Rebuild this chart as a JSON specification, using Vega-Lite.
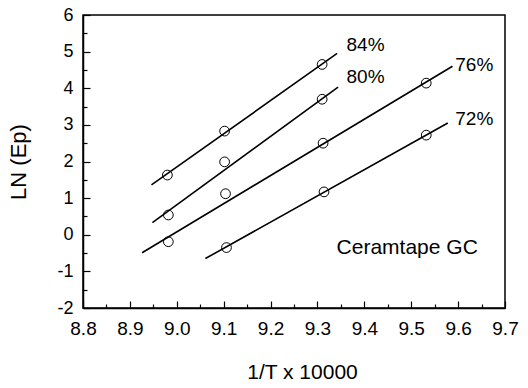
{
  "$schema": "https://vega.github.io/schema/vega-lite/v6.json",
  "width": 422,
  "height": 293,
  "autosize": {"type": "none"},
  "padding": {"left": 83, "top": 15, "right": 23, "bottom": 80},
  "background": "white",
  "config": {
    "font": "Liberation Sans",
    "view": {"stroke": "black", "strokeWidth": 1.5},
    "axis": {
      "domainColor": "black",
      "domainWidth": 1.5,
      "tickColor": "black",
      "tickWidth": 1.2,
      "grid": false,
      "labelColor": "black",
      "titleColor": "black",
      "titleFontWeight": "normal",
      "labelFont": "Liberation Sans",
      "titleFont": "Liberation Sans"
    }
  },
  "datasets": {
    "points": [
      {"series": "84%", "x": 8.98, "y": 1.63},
      {"series": "84%", "x": 9.102, "y": 2.83},
      {"series": "84%", "x": 9.31, "y": 4.65},
      {"series": "80%", "x": 8.982, "y": 0.54},
      {"series": "80%", "x": 9.102, "y": 1.99},
      {"series": "80%", "x": 9.31, "y": 3.7},
      {"series": "76%", "x": 8.982, "y": -0.19},
      {"series": "76%", "x": 9.104, "y": 1.12},
      {"series": "76%", "x": 9.312, "y": 2.5},
      {"series": "76%", "x": 9.532, "y": 4.14},
      {"series": "72%", "x": 9.106, "y": -0.35},
      {"series": "72%", "x": 9.314, "y": 1.17},
      {"series": "72%", "x": 9.532, "y": 2.72}
    ],
    "fits": [
      {"series": "84%", "x": 8.946, "y": 1.36},
      {"series": "84%", "x": 9.342, "y": 4.95},
      {"series": "80%", "x": 8.948, "y": 0.33},
      {"series": "80%", "x": 9.344, "y": 4.03},
      {"series": "76%", "x": 8.926, "y": -0.49},
      {"series": "76%", "x": 9.588, "y": 4.6},
      {"series": "72%", "x": 9.061, "y": -0.65},
      {"series": "72%", "x": 9.578, "y": 3.05}
    ],
    "labels": [
      {"text": "84%", "x": 9.362, "y": 5.17},
      {"text": "80%", "x": 9.362, "y": 4.3},
      {"text": "76%", "x": 9.594, "y": 4.63},
      {"text": "72%", "x": 9.594, "y": 3.16}
    ]
  },
  "encoding": {
    "x": {
      "field": "x", "type": "quantitative",
      "scale": {"domain": [8.8, 9.7], "nice": false, "zero": false},
      "axis": {
        "title": "1/T x 10000",
        "titleFontSize": 21,
        "titlePadding": 20,
        "titleX": 219,
        "values": [8.8, 8.85, 8.9, 8.95, 9.0, 9.05, 9.1, 9.15, 9.2, 9.25, 9.3, 9.35, 9.4, 9.45, 9.5, 9.55, 9.6, 9.65, 9.7],
        "labelExpr": "abs(datum.value*10 - round(datum.value*10)) < 0.01 ? format(datum.value, '.1f') : ''",
        "tickSize": {"condition": {"test": "abs(datum.value*10 - round(datum.value*10)) < 0.01", "value": -7}, "value": -4},
        "labelFontSize": 19,
        "labelPadding": 18,
        "labelFlush": false,
        "labelOverlap": false
      }
    },
    "y": {
      "field": "y", "type": "quantitative",
      "scale": {"domain": [-2, 6], "nice": false, "zero": false},
      "axis": {
        "title": "LN (Ep)",
        "titleFontSize": 22,
        "titlePadding": 26,
        "values": [-2, -1.5, -1, -0.5, 0, 0.5, 1, 1.5, 2, 2.5, 3, 3.5, 4, 4.5, 5, 5.5, 6],
        "labelExpr": "datum.value == round(datum.value) ? toString(datum.value) : ''",
        "tickSize": {"condition": {"test": "datum.value == round(datum.value)", "value": -7}, "value": -4},
        "labelFontSize": 18,
        "labelPadding": 17,
        "labelFlush": false,
        "labelOverlap": false
      }
    }
  },
  "layer": [
    {
      "data": {"name": "fits"},
      "mark": {"type": "line", "color": "black", "strokeWidth": 1.6},
      "encoding": {
        "detail": {"field": "series", "type": "nominal"}
      }
    },
    {
      "data": {"name": "points"},
      "mark": {"type": "point", "shape": "circle", "filled": false, "color": "black", "strokeWidth": 1, "size": 95, "opacity": 1}
    },
    {
      "data": {"name": "labels"},
      "mark": {"type": "text", "align": "left", "baseline": "middle", "fontSize": 19, "color": "black"},
      "encoding": {
        "text": {"field": "text"}
      }
    },
    {
      "data": {"values": [{"text": "Ceramtape GC", "x": 9.642, "y": -0.35}]},
      "mark": {"type": "text", "align": "right", "baseline": "middle", "fontSize": 21, "color": "black"},
      "encoding": {
        "text": {"field": "text"}
      }
    }
  ]
}
